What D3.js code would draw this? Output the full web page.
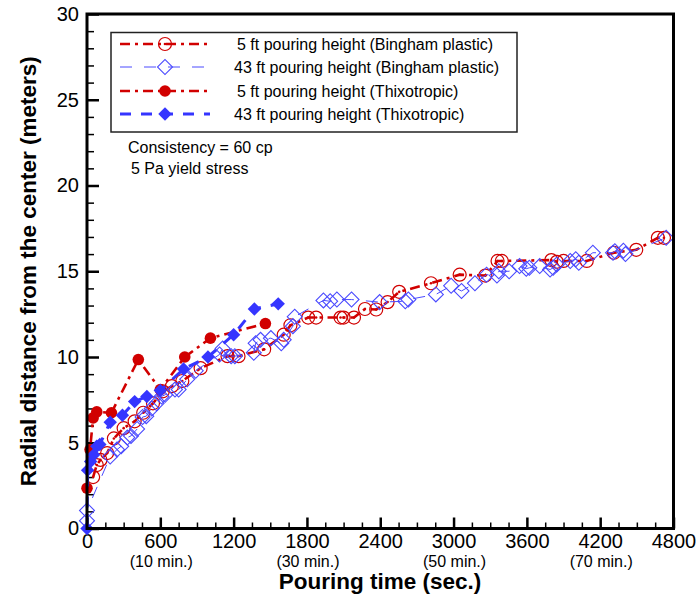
<!DOCTYPE html>
<html><head><meta charset="utf-8">
<script src="https://cdn.jsdelivr.net/npm/d3@7"></script>
<style>
body{margin:0;background:#fff;}
svg{display:block;font-family:"Liberation Sans",Arial,Helvetica,sans-serif;}
</style></head>
<body><svg id="chart" width="700" height="596"></svg>
<script>
// ---------- data ----------
const xTickValues = [0,600,1200,1800,2400,3000,3600,4200,4800];
const xSubLabels = [[600,"(10 min.)"],[1800,"(30 min.)"],[3000,"(50 min.)"],[4200,"(70 min.)"]];
const yTickValues = [0,5,10,15,20,25,30];

// 5 ft pouring height (Bingham plastic)
const bingham5T = [50,80,110,165,220,300,390,460,540,620,695,780,930,1150,1240,1450,1610,1665,1810,1875,2075,2100,2185,2275,2367,2460,2555,2815,3050,3260,3360,3395,3800,3845,3900,4090,4312,4495,4672,4722];
const bingham5R = [3.0,3.7,4.0,4.4,5.25,5.85,6.25,6.75,7.3,8.0,8.3,8.6,9.35,10.05,10.05,10.45,11.3,11.85,12.3,12.3,12.3,12.3,12.3,12.8,12.77,13.2,13.8,14.3,14.8,14.75,15.6,15.6,15.65,15.55,15.6,15.6,16.08,16.25,16.95,16.95];

// 43 ft pouring height (Bingham plastic)
const bingham43T = [0,0,190,245,280,330,360,410,455,485,530,570,610,640,720,750,820,890,1085,1110,1180,1210,1365,1380,1420,1505,1590,1610,1685,1700,1935,1990,2045,2165,2395,2605,2630,2855,2980,3065,3175,3270,3355,3370,3455,3540,3595,3620,3705,3790,3815,3845,3955,4000,4025,4140,4305,4320,4390,4407,4740];
const bingham43R = [0.45,1.05,4.2,4.6,4.8,5.3,5.4,5.8,6.5,6.55,7.0,7.3,7.7,7.8,8.1,8.1,8.7,9.2,10.15,10.5,10.05,10.05,10.25,10.8,11.0,11.1,10.8,11.0,11.8,12.35,13.3,13.25,13.35,13.35,13.2,13.25,13.35,13.65,14.15,13.85,14.3,14.8,14.75,15.0,15.0,15.3,15.15,15.2,15.3,15.1,15.2,15.4,15.6,15.7,15.5,16.08,16.08,16.17,16.2,16.0,16.95];

// 5 ft pouring height (Thixotropic)
const thixo5T = [0,25,50,80,200,420,600,800,1010,1460];
const thixo5R = [2.35,4.6,6.45,6.8,6.75,9.85,8.1,10.0,11.1,11.95];

// 43 ft pouring height (Thixotropic)
const thixo43T = [0,5,30,55,80,105,190,290,390,490,600,790,990,1200,1370,1565];
const thixo43R = [0,3.4,3.9,4.3,4.8,4.9,6.2,6.6,7.4,7.7,8.05,9.3,10.0,11.3,12.8,13.1];

const legendLabels = ["5 ft pouring height (Bingham plastic)","43 ft pouring height (Bingham plastic)","5 ft pouring height (Thixotropic)","43 ft pouring height (Thixotropic)"];
const noteLines = ["Consistency = 60 cp","5 Pa yield stress"];

// ---------- layout ----------
const L=87, R=673.5, T=14, B=528.5;
const RED="#d10000", BLUE="#3535ff", BLUE2="#4a4aff";
const svg=d3.select("#chart");
const x=d3.scaleLinear().domain([0,4800]).range([L,R]);
const y=d3.scaleLinear().domain([0,30]).range([B,T]);

const zip=(a,b)=>a.map((v,i)=>[v,b[i]]);
const series=[
 {data:zip(bingham5T,bingham5R), color:RED, width:2.6, dash:"10,5,3,5", marker:"openCircle"},
 {data:zip(bingham43T,bingham43R), color:BLUE2, width:1, dash:"12,12", marker:"openDiamond"},
 {data:zip(thixo5T,thixo5R), color:RED, width:2.6, dash:"10,5,3,5", marker:"filledCircle"},
 {data:zip(thixo43T,thixo43R), color:BLUE, width:3, dash:"11,10", marker:"filledDiamond"}
];

// axes ticks (inward)
const xMinor=d3.range(0,4801,150).filter(v=>v%600!==0);
const yMinor=d3.range(0,31,1).filter(v=>v%5!==0);

const gxMinor=svg.append("g").attr("transform",`translate(0,${B})`)
  .call(d3.axisBottom(x).tickValues(xMinor).tickSize(-6).tickFormat(""));
const gx=svg.append("g").attr("transform",`translate(0,${B})`)
  .call(d3.axisBottom(x).tickValues(xTickValues).tickSize(-11).tickPadding(5).tickFormat(d3.format("d")));
const gyMinor=svg.append("g").attr("transform",`translate(${L},0)`)
  .call(d3.axisLeft(y).tickValues(yMinor).tickSize(-7).tickFormat(""));
const gy=svg.append("g").attr("transform",`translate(${L},0)`)
  .call(d3.axisLeft(y).tickValues(yTickValues).tickSize(-12).tickPadding(8).tickFormat(d3.format("d")));
[gxMinor,gx,gyMinor,gy].forEach(g=>{g.select(".domain").remove();g.selectAll("line").attr("stroke","#000");});
gxMinor.selectAll("line").attr("stroke-width",1.5);
gyMinor.selectAll("line").attr("stroke-width",1.5);
gx.selectAll("line").attr("stroke-width",2.5);
gy.selectAll("line").attr("stroke-width",2.5);
[gx,gy].forEach(g=>g.selectAll("text").attr("font-size",20).attr("fill","#000").attr("font-family","Liberation Sans, Arial, sans-serif"));

// sub labels
svg.append("g").selectAll("text").data(xSubLabels).join("text")
  .attr("x",d=>x(d[0])+1).attr("y",567).attr("text-anchor","middle")
  .attr("font-size",16).text(d=>d[1]);

// axis titles
svg.append("text").attr("x",380).attr("y",589).attr("text-anchor","middle")
  .attr("font-size",22.5).attr("font-weight","bold").text("Pouring time (sec.)");
svg.append("text").attr("transform",`translate(35.5,${(T+B)/2}) rotate(-90)`).attr("text-anchor","middle")
  .attr("font-size",22.5).attr("font-weight","bold").text("Radial distance from the center (meters)");

// markers
function drawMarker(g,type,color){
  if(type==="openCircle"){
    g.append("circle").attr("r",6.5).attr("fill","none").attr("stroke",color).attr("stroke-width",1.2);
    g.append("circle").attr("r",1.3).attr("fill",color);
  } else if(type==="filledCircle"){
    g.append("circle").attr("r",5.8).attr("fill",color);
  } else if(type==="openDiamond"){
    g.append("path").attr("d",d3.symbol(d3.symbolSquare,112)()).attr("transform","rotate(45)")
      .attr("fill","none").attr("stroke",color).attr("stroke-width",1.1);
  } else {
    g.append("path").attr("d",d3.symbol(d3.symbolSquare,90)()).attr("transform","rotate(45)")
      .attr("fill",color);
  }
}

const line=d3.line().x(d=>x(d[0])).y(d=>y(d[1]));
const plot=svg.append("g");
series.forEach(s=>{
  const g=plot.append("g");
  g.append("path").datum(s.data).attr("d",line).attr("fill","none")
    .attr("stroke",s.color).attr("stroke-width",s.width).attr("stroke-dasharray",s.dash);
  g.selectAll("g.m").data(s.data).join("g").attr("class","m")
    .attr("transform",d=>`translate(${x(d[0])},${y(d[1])})`)
    .each(function(){drawMarker(d3.select(this),s.marker,s.color);});
});

// frame
svg.append("rect").attr("x",L).attr("y",T).attr("width",R-L).attr("height",B-T)
  .attr("fill","none").attr("stroke","#000").attr("stroke-width",3);

// legend
const lg=svg.append("g");
lg.append("rect").attr("x",111).attr("y",32.5).attr("width",406).attr("height",99.5)
  .attr("fill","#fff").attr("stroke","#222").attr("stroke-width",1.5);
const rowsY=[44,67,91,114];
const textX=[237,234,237,234];
series.forEach((s,i)=>{
  const ry=rowsY[i];
  lg.append("line").attr("x1",120).attr("x2",210).attr("y1",ry).attr("y2",ry)
    .attr("stroke",s.color).attr("stroke-width",s.width).attr("stroke-dasharray",s.dash);
  const mg=lg.append("g").attr("transform",`translate(165,${ry})`);
  drawMarker(mg,s.marker,s.color);
  lg.append("text").attr("x",textX[i]).attr("y",ry+5.5).attr("font-size",16).text(legendLabels[i]);
});
svg.append("g").selectAll("text").data(noteLines).join("text")
  .attr("x",(d,i)=>i===0?128:131).attr("y",(d,i)=>153+i*21).attr("font-size",16).text(d=>d);
</script></body></html>
